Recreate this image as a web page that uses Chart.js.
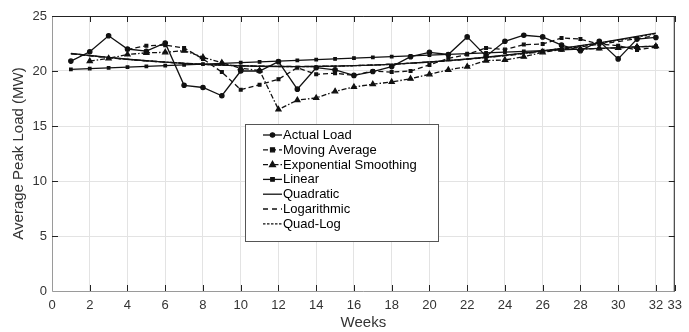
<!DOCTYPE html>
<html>
<head>
<meta charset="utf-8">
<script src="https://cdn.jsdelivr.net/npm/chart.js@4/dist/chart.umd.min.js"></script>
<style>
  body { margin: 0; background: #fff; }
  #wrap { width: 689px; height: 332px; }
</style>
</head>
<body>
<div id="wrap"><canvas id="loadChart" width="689" height="332"></canvas></div>
<script>
// data (MW per week)
const weeks = [1,2,3,4,5,6,7,8,9,10,11,12,13,14,15,16,17,18,19,20,21,22,23,24,25,26,27,28,29,30,31,32];
const xTicks = [0,2,4,6,8,10,12,14,16,18,20,22,24,26,28,30,32,33];
const yTicks = [0,5,10,15,20,25];

const actualLoad = [20.9, 21.75, 23.2, 22.0, 21.8, 22.55, 18.7, 18.5, 17.75, 20.0, 20.0, 20.85, 18.35, 20.3, 20.1, 19.6,
  19.95, 20.4, 21.3, 21.7, 21.5, 23.1, 21.35, 22.7, 23.25, 23.1, 22.35, 21.85, 22.7, 21.1, 22.9, 23.05];
const movingAvg = [null, null, null, 21.95, 22.3, 22.35, 22.1, 21.1, 19.9, 18.3, 18.75, 19.25, 20.3, 19.7, 19.8, 19.6,
  20.0, 19.9, 20.0, 20.55, 21.15, 21.5, 22.1, 21.95, 22.4, 22.45, 23.0, 22.9, 22.45, 22.3, 21.9, 22.2];
const expSmooth = [null, 20.9, 21.15, 21.5, 21.65, 21.7, 21.85, 21.25, 20.75, 20.25, 20.05, 16.5, 17.35, 17.55, 18.15, 18.55,
  18.8, 19.0, 19.3, 19.7, 20.1, 20.4, 20.95, 21.0, 21.3, 21.7, 21.95, 22.0, 22.05, 22.1, 22.2, 22.25];
const linearFit = [20.15, 20.22, 20.29, 20.35, 20.42, 20.49, 20.56, 20.63, 20.69, 20.76, 20.83, 20.9, 20.97, 21.03, 21.1, 21.17,
  21.24, 21.31, 21.37, 21.44, 21.51, 21.58, 21.65, 21.71, 21.78, 21.85, 21.92, 21.99, 22.05, 22.12, 22.19, 22.26];
const quadFit = [21.6, 21.41, 21.23, 21.07, 20.93, 20.81, 20.7, 20.61, 20.53, 20.47, 20.43, 20.41, 20.4, 20.41, 20.44, 20.48,
  20.54, 20.61, 20.71, 20.82, 20.94, 21.09, 21.25, 21.43, 21.62, 21.83, 22.06, 22.3, 22.56, 22.84, 23.14, 23.45];
const logFit = [21.55, 21.38, 21.21, 21.06, 20.92, 20.8, 20.7, 20.61, 20.54, 20.48, 20.44, 20.42, 20.41, 20.42, 20.45, 20.49,
  20.55, 20.62, 20.71, 20.81, 20.93, 21.07, 21.22, 21.39, 21.57, 21.77, 21.98, 22.2, 22.43, 22.68, 22.94, 23.2];
const quadLogFit = [21.58, 21.4, 21.22, 21.06, 20.93, 20.81, 20.7, 20.61, 20.53, 20.47, 20.43, 20.41, 20.4, 20.41, 20.44, 20.48,
  20.54, 20.61, 20.71, 20.82, 20.94, 21.08, 21.24, 21.42, 21.61, 21.82, 22.04, 22.28, 22.53, 22.8, 23.09, 23.4];

const ink = '#111';

function pts(values) {
    return weeks.map((w, i) => ({ x: w, y: values[i] }));
}

function series(label, values, dash, pointStyle, radius, fill) {
    return {
        label: label,
        data: pts(values),
        borderColor: ink,
        borderWidth: 1.3,
        borderDash: dash,
        pointStyle: pointStyle || 'circle',
        pointRadius: radius,
        pointBackgroundColor: fill,
        pointBorderColor: ink,
        pointBorderWidth: 1.2,
        tension: 0,
        spanGaps: false
    };
}

// axes box with inward ticks, like the original figure
const boxPlugin = {
    id: 'boxPlugin',
    afterDatasetsDraw(chart) {
        const ctx = chart.ctx;
        const a = chart.chartArea;
        const xs = chart.scales.x;
        const ys = chart.scales.y;
        ctx.save();
        ctx.lineWidth = 1;
        ctx.strokeStyle = '#9a9a9a';
        ctx.beginPath();
        ctx.moveTo(a.left + 0.5, a.top);
        ctx.lineTo(a.left + 0.5, a.bottom + 0.5);
        ctx.lineTo(a.right, a.bottom + 0.5);
        ctx.stroke();
        ctx.strokeStyle = '#222';
        ctx.beginPath();
        ctx.moveTo(a.left, a.top + 0.5);
        ctx.lineTo(a.right - 0.5, a.top + 0.5);
        ctx.lineTo(a.right - 0.5, a.bottom + 0.5);
        ctx.stroke();
        ctx.beginPath();
        xTicks.forEach(v => {
            const px = Math.round(xs.getPixelForValue(v)) + 0.5;
            if (v === 0) return;
            ctx.moveTo(px, a.bottom); ctx.lineTo(px, a.bottom - 6);
            ctx.moveTo(px, a.top); ctx.lineTo(px, a.top + 6);
        });
        yTicks.forEach(v => {
            const py = Math.round(ys.getPixelForValue(v)) + 0.5;
            if (v === 0) return;
            ctx.moveTo(a.left, py); ctx.lineTo(a.left + 6, py);
            ctx.moveTo(a.right, py); ctx.lineTo(a.right - 6, py);
        });
        ctx.stroke();
        ctx.restore();
    }
};

function drawMarker(ctx, ds, x, y) {
    const r = ds.pointRadius;
    if (!r) return;
    ctx.save();
    ctx.setLineDash([]);
    ctx.fillStyle = ds.pointBackgroundColor;
    ctx.strokeStyle = ink;
    ctx.lineWidth = 1.2;
    ctx.beginPath();
    if (ds.pointStyle === 'rect') {
        ctx.rect(x - r, y - r, r * 2, r * 2);
    } else if (ds.pointStyle === 'triangle') {
        ctx.moveTo(x, y - r * 1.1);
        ctx.lineTo(x + r, y + r * 0.7);
        ctx.lineTo(x - r, y + r * 0.7);
        ctx.closePath();
    } else {
        ctx.arc(x, y, r, 0, Math.PI * 2);
    }
    ctx.fill();
    ctx.stroke();
    ctx.restore();
}

// legend box drawn inside the plot area
const legendBox = {
    id: 'legendBox',
    afterDraw(chart) {
        const ctx = chart.ctx;
        const a = chart.chartArea;
        const left = a.left + 193, top = a.top + 108, w = 193, h = 117;
        ctx.save();
        ctx.fillStyle = '#fff';
        ctx.fillRect(left, top, w, h);
        ctx.strokeStyle = '#555';
        ctx.lineWidth = 1;
        ctx.strokeRect(left + 0.5, top + 0.5, w, h);
        ctx.font = '13px "Liberation Sans", Arial, sans-serif';
        ctx.textBaseline = 'middle';
        ctx.fillStyle = '#000';
        chart.data.datasets.forEach((ds, i) => {
            const y = top + 11 + i * 14.8;
            const x0 = left + 18, x1 = left + 37;
            ctx.strokeStyle = ink;
            ctx.lineWidth = 1.3;
            ctx.setLineDash(ds.borderDash || []);
            ctx.beginPath();
            ctx.moveTo(x0, y);
            ctx.lineTo(x1, y);
            ctx.stroke();
            ctx.setLineDash([]);
            drawMarker(ctx, ds, (x0 + x1) / 2, y);
            ctx.fillText(ds.label, x1 + 1, y + 0.5);
        });
        ctx.restore();
    }
};

const tickFont = { family: '"Liberation Sans", Arial, sans-serif', size: 13 };
const titleFont = { family: '"Liberation Sans", Arial, sans-serif', size: 15 };

new Chart(document.getElementById('loadChart').getContext('2d'), {
    type: 'line',
    data: {
        datasets: [
            series('Actual Load', actualLoad, [], 'circle', 2.2, ink),
            series('Moving Average', movingAvg, [5, 3], 'rect', 2, ink),
            series('Exponential Smoothing', expSmooth, [5, 2, 1.5, 2], 'triangle', 3, ink),
            series('Linear', linearFit, [], 'rect', 1.8, ink),
            series('Quadratic', quadFit, [], 'circle', 0, ink),
            series('Logarithmic', logFit, [5, 4], 'circle', 0, ink),
            series('Quad-Log', quadLogFit, [2.5, 1.5], 'circle', 0, ink)
        ]
    },
    options: {
        responsive: false,
        animation: false,
        layout: { padding: { top: 16, right: 8, left: 0, bottom: 0 } },
        plugins: {
            legend: { display: false },
            tooltip: { enabled: false }
        },
        scales: {
            x: {
                type: 'linear',
                min: 0,
                max: 33,
                afterBuildTicks: s => { s.ticks = xTicks.map(v => ({ value: v })); },
                afterFit: s => { s.height = 41; },
                border: { display: false },
                grid: { color: '#e3e3e3', lineWidth: 1, drawTicks: false },
                ticks: {
                    autoSkip: false,
                    maxRotation: 0,
                    padding: 7,
                    color: '#333',
                    font: tickFont
                },
                title: {
                    display: true,
                    text: 'Weeks',
                    color: '#333',
                    font: titleFont,
                    padding: { top: 2, bottom: 0 }
                }
            },
            y: {
                min: 0,
                max: 25,
                afterBuildTicks: s => { s.ticks = yTicks.map(v => ({ value: v })); },
                afterFit: s => { s.width = 52; },
                border: { display: false },
                grid: { color: '#e3e3e3', lineWidth: 1, drawTicks: false },
                ticks: {
                    padding: 5,
                    color: '#333',
                    font: tickFont
                },
                title: {
                    display: true,
                    text: 'Average Peak Load (MW)',
                    color: '#333',
                    font: titleFont,
                    padding: { top: 10, bottom: 0 }
                }
            }
        }
    },
    plugins: [boxPlugin, legendBox]
});
</script>
</body>
</html>
